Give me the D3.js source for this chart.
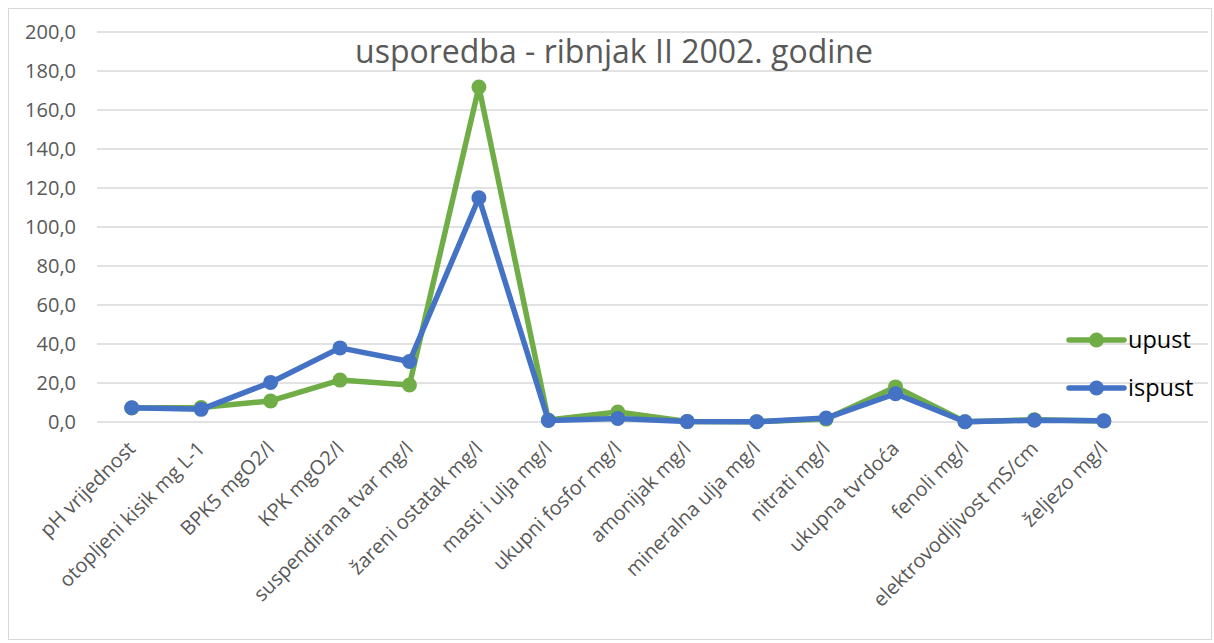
<!DOCTYPE html>
<html>
<head>
<meta charset="utf-8">
<script src="https://cdn.jsdelivr.net/npm/d3@7"></script>
<style>
  body { margin: 0; background: #fff; }
  text { font-family: "Open Sans", "Noto Sans", sans-serif; }
</style>
</head>
<body>
<script>
const categories = ["pH vrijednost", "otopljeni kisik mg L-1", "BPK5 mgO2/l", "KPK mgO2/l",
    "suspendirana tvar mg/l", "žareni ostatak mg/l", "masti i ulja mg/l", "ukupni fosfor mg/l",
    "amonijak mg/l", "mineralna ulja mg/l", "nitrati mg/l", "ukupna tvrdoća", "fenoli mg/l",
    "elektrovodljivost mS/cm", "željezo mg/l"];
const upust = [7.2, 7.4, 10.8, 21.5, 19.0, 171.8, 1.0, 5.1, 0.3, 0.1, 1.5, 18.0, 0.1, 1.2, 0.5];
const ispust = [7.3, 6.5, 20.3, 38.0, 31.0, 115.0, 0.8, 1.8, 0.2, 0.1, 2.0, 14.5, 0.1, 0.9, 0.6];
const yTicks = [0, 20, 40, 60, 80, 100, 120, 140, 160, 180, 200];
const seriesNames = ["upust", "ispust"];
const seriesColors = ["#70AD47", "#4472C4"];

const width = 1214, height = 643;
const svg = d3.select("body").append("svg")
    .attr("width", width)
    .attr("height", height);

// chart border
svg.append("rect")
    .attr("x", 8.5).attr("y", 8.5)
    .attr("width", 1203).attr("height", 631)
    .attr("fill", "none")
    .attr("stroke", "#d9d9d9");

const plotLeft = 97, plotRight = 1208;
// Excel leaves one empty slot on the right for the legend
const step = (plotRight - plotLeft) / (categories.length + 1);
const x = d3.scaleBand()
    .domain(categories)
    .range([plotLeft, plotLeft + step * categories.length]);
const y = d3.scaleLinear().domain([0, 200]).range([422, 32]);

// gridlines
svg.append("g").selectAll("line")
    .data(yTicks)
    .join("line")
    .attr("x1", plotLeft).attr("x2", plotRight)
    .attr("y1", d => y(d)).attr("y2", d => y(d))
    .attr("stroke", "#d9d9d9")
    .attr("stroke-width", 1.3);

// y axis labels
svg.append("g").selectAll("text")
    .data(yTicks)
    .join("text")
    .attr("x", 76)
    .attr("y", d => y(d))
    .attr("dy", "0.35em")
    .attr("text-anchor", "end")
    .attr("fill", "#595959")
    .style("font-size", "20px")
    .text(d => d3.format(".1f")(d).replace(".", ","));

// x axis labels
const cx = d => x(d) + x.bandwidth() / 2;
svg.append("g").selectAll("text")
    .data(categories)
    .join("text")
    .attr("transform", d => `translate(${cx(d)},${445}) rotate(-45)`)
    .attr("text-anchor", "end")
    .attr("dy", "0.35em")
    .attr("fill", "#595959")
    .style("font-size", "20px")
    .text(d => d);

// title
svg.append("text")
    .attr("x", 614).attr("y", 63)
    .attr("text-anchor", "middle")
    .attr("fill", "#595959")
    .style("font-size", "32px")
    .text("usporedba - ribnjak II 2002. godine");

const line = d3.line()
    .x((d, i) => cx(categories[i]))
    .y(d => y(d));

[upust, ispust].forEach((vals, k) => {
    const g = svg.append("g");
    g.append("path")
        .attr("d", line(vals))
        .attr("fill", "none")
        .attr("stroke", seriesColors[k])
        .attr("stroke-width", 5.5)
        .attr("stroke-linejoin", "round");
    g.selectAll("circle")
        .data(vals)
        .join("circle")
        .attr("cx", (d, i) => cx(categories[i]))
        .attr("cy", d => y(d))
        .attr("r", 7.5)
        .attr("fill", seriesColors[k]);
});

// legend
const legend = svg.append("g").selectAll("g")
    .data(seriesNames)
    .join("g")
    .attr("transform", (d, i) => `translate(1069,${340 + i * 48})`);
legend.append("line")
    .attr("x1", 0).attr("x2", 55)
    .attr("stroke", (d, i) => seriesColors[i])
    .attr("stroke-width", 5.5)
    .attr("stroke-linecap", "round");
legend.append("circle")
    .attr("cx", 27.5)
    .attr("r", 7.5)
    .attr("fill", (d, i) => seriesColors[i]);
legend.append("text")
    .attr("x", 59)
    .attr("dy", "0.35em")
    .attr("fill", "#000")
    .style("font-size", "23.5px")
    .text(d => d);
</script>
</body>
</html>
